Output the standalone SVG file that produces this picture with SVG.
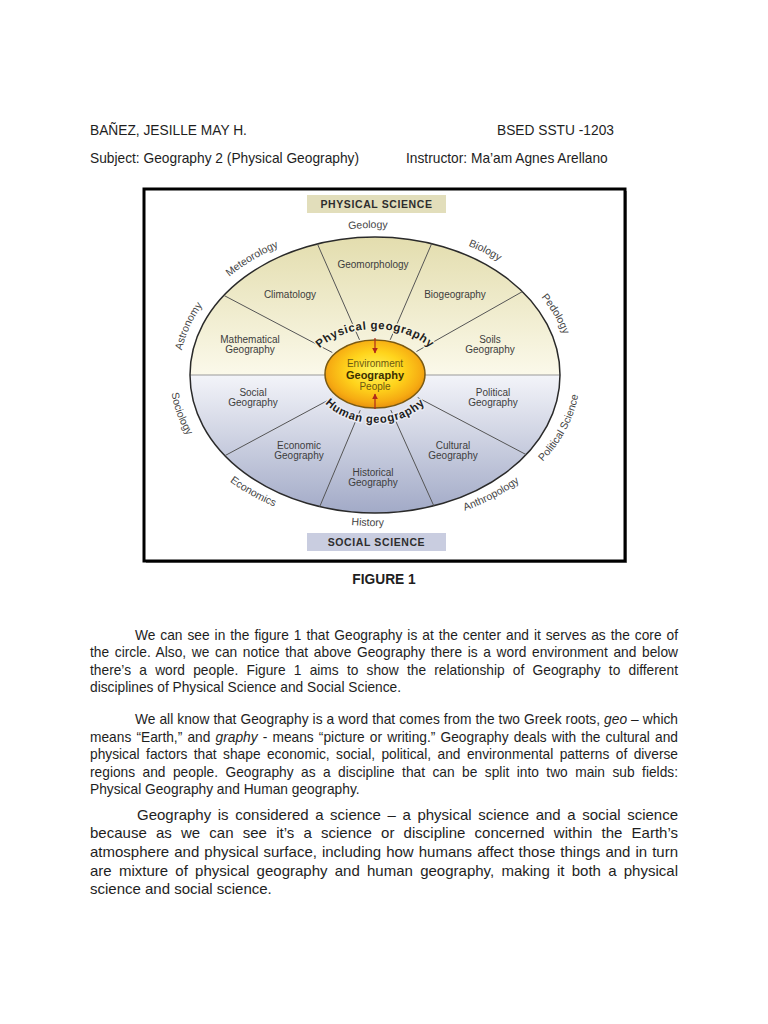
<svg xmlns="http://www.w3.org/2000/svg" width="768" height="1024" viewBox="0 0 768 1024">
<style>
text{font-family:"Liberation Sans",Arial,sans-serif}
.hdr{font-size:13.75px;fill:#1e1e1e}
.body{font-size:13.75px;fill:#1e1e1e}
.p3{font-size:15px;fill:#1e1e1e}
.lbl{font-size:10px;fill:#3d3d3d;text-anchor:middle}
.out{font-size:10.5px;fill:#444;text-anchor:middle}
.box{font-size:10.5px;font-weight:bold;fill:#2e2e2e;text-anchor:middle;letter-spacing:0.6px}
.arc{font-size:11.5px;font-weight:bold;fill:#1e1e1e;text-anchor:middle;letter-spacing:0.6px;paint-order:stroke;stroke-width:3px;stroke-linejoin:round}
.spoke{stroke:#555;stroke-width:1;fill:none}
.ctr{font-size:10px;text-anchor:middle;fill:#6b5a12}
</style>
<defs>
<linearGradient id="gUp" x1="0" y1="0" x2="0" y2="1">
<stop offset="0" stop-color="#e3ddae"/>
<stop offset="1" stop-color="#fbf9ea"/>
</linearGradient>
<linearGradient id="gDn" x1="0" y1="0" x2="0" y2="1">
<stop offset="0" stop-color="#f3f4f9"/>
<stop offset="1" stop-color="#a2aac7"/>
</linearGradient>
<radialGradient id="gCtr" cx="50%" cy="45%" r="55%">
<stop offset="0" stop-color="#fff55e"/>
<stop offset="0.5" stop-color="#ffd41c"/>
<stop offset="0.85" stop-color="#f6ab12"/>
<stop offset="1" stop-color="#e8920e"/>
</radialGradient>
<marker id="ah" viewBox="0 0 10 10" refX="9" refY="5" markerWidth="5" markerHeight="5" orient="auto">
<path d="M0,0 L10,5 L0,10 z" fill="#b02a1a"/>
</marker>
<path id="arcTop" d="M179,375 A196,147 0 0 1 571,375"/>
<path id="arcBot" d="M170,375 A205,151 0 0 0 580,375"/>
<path id="pgArc" d="M307,375 A68,46 0 0 1 443,375"/>
<path id="hgArc" d="M313,375 A62,48 0 0 0 437,375"/>
</defs>

<rect width="768" height="1024" fill="#fff"/>

<g id="header">
<text class="hdr" x="90" y="135">BAÑEZ, JESILLE MAY H.</text>
<text class="hdr" x="497" y="135">BSED SSTU -1203</text>
<text class="hdr" x="90" y="163">Subject: Geography 2 (Physical Geography)</text>
<text class="hdr" x="406" y="163">Instructor: Ma’am Agnes Arellano</text>
</g>

<g id="frame">
<rect x="146" y="191" width="481" height="372" fill="#888"/>
<rect x="144" y="189" width="481" height="372" fill="#fff" stroke="#000" stroke-width="3"/>
</g>

<g id="disc">
<path d="M190,375 A185,138 0 0 1 560,375 Z" fill="url(#gUp)"/>
<path d="M190,375 A185,138 0 0 0 560,375 Z" fill="url(#gDn)"/>
<line x1="190" y1="375" x2="560" y2="375" stroke="#9a9a9a" stroke-width="1.2"/>
<ellipse cx="375" cy="375" rx="185" ry="138" fill="none" stroke="#2a2a2a" stroke-width="1.5"/>
</g>

<g id="spokes">
<line class="spoke" x1="332.3" y1="352.5" x2="223.9" y2="295.4"/>
<line class="spoke" x1="359.5" y1="339.8" x2="317.4" y2="243.9"/>
<line class="spoke" x1="390.2" y1="339.8" x2="431.7" y2="243.6"/>
<line class="spoke" x1="416.5" y1="351.5" x2="522.4" y2="291.6"/>
<line class="spoke" x1="332.6" y1="397.8" x2="224.9" y2="455.7"/>
<line class="spoke" x1="360.2" y1="410.3" x2="319.7" y2="506.7"/>
<line class="spoke" x1="390.8" y1="410.1" x2="433.8" y2="505.8"/>
<line class="spoke" x1="417.7" y1="397.5" x2="526.1" y2="454.6"/>
</g>

<g id="physical-science">
<rect x="307" y="195" width="139" height="18" fill="#e2debb"/>
<text class="box" x="376.5" y="208">PHYSICAL SCIENCE</text>
</g>
<g id="social-science">
<rect x="307" y="533" width="139" height="18" fill="#c9cde0"/>
<text class="box" x="376.5" y="546">SOCIAL SCIENCE</text>
</g>

<g id="outer-labels">
<g id="astronomy"><text class="out"><textPath href="#arcTop" startOffset="9.2%">Astronomy</textPath></text></g>
<g id="meteorology"><text class="out"><textPath href="#arcTop" startOffset="26.4%">Meteorology</textPath></text></g>
<g id="geology"><text class="out"><textPath href="#arcTop" startOffset="48.7%">Geology</textPath></text></g>
<g id="biology"><text class="out"><textPath href="#arcTop" startOffset="70.8%">Biology</textPath></text></g>
<g id="pedology"><text class="out"><textPath href="#arcTop" startOffset="88.3%">Pedology</textPath></text></g>
<g id="sociology"><text class="out"><textPath href="#arcBot" startOffset="7.3%">Sociology</textPath></text></g>
<g id="economics"><text class="out"><textPath href="#arcBot" startOffset="27.1%">Economics</textPath></text></g>
<g id="history"><text class="out"><textPath href="#arcBot" startOffset="48.7%">History</textPath></text></g>
<g id="anthropology"><text class="out"><textPath href="#arcBot" startOffset="71.8%">Anthropology</textPath></text></g>
<g id="political-science"><text class="out"><textPath href="#arcBot" startOffset="89.6%">Political Science</textPath></text></g>
</g>

<g id="sector-labels">
<g id="geomorphology"><text class="lbl" x="373" y="268">Geomorphology</text></g>
<g id="climatology"><text class="lbl" x="290" y="298">Climatology</text></g>
<g id="biogeography"><text class="lbl" x="455" y="298">Biogeography</text></g>
<g id="mathematical-geography"><text class="lbl" x="250" y="343">Mathematical</text><text class="lbl" x="250" y="353">Geography</text></g>
<g id="soils-geography"><text class="lbl" x="490" y="343">Soils</text><text class="lbl" x="490" y="353">Geography</text></g>
<g id="social-geography"><text class="lbl" x="253" y="396">Social</text><text class="lbl" x="253" y="406">Geography</text></g>
<g id="political-geography"><text class="lbl" x="493" y="396">Political</text><text class="lbl" x="493" y="406">Geography</text></g>
<g id="economic-geography"><text class="lbl" x="299" y="449">Economic</text><text class="lbl" x="299" y="459">Geography</text></g>
<g id="cultural-geography"><text class="lbl" x="453" y="449">Cultural</text><text class="lbl" x="453" y="459">Geography</text></g>
<g id="historical-geography"><text class="lbl" x="373" y="476">Historical</text><text class="lbl" x="373" y="486">Geography</text></g>
</g>

<g id="arc-labels">
<text class="arc" stroke="#f6f3dc"><textPath href="#pgArc" startOffset="50%">Physical geography</textPath></text>
<text class="arc" stroke="#e8eaf2"><textPath href="#hgArc" startOffset="50%">Human geography</textPath></text>
</g>

<g id="center-node">
<ellipse cx="375" cy="374" rx="50" ry="34" fill="url(#gCtr)" stroke="#7a5a12" stroke-width="1.5"/>
<text class="ctr" x="375" y="367">Environment</text>
<text x="375" y="379" font-size="11" font-weight="bold" text-anchor="middle" fill="#3b3000">Geography</text>
<text class="ctr" x="375" y="390">People</text>
</g>

<g id="arrows">
<line x1="375" y1="338" x2="375" y2="353" stroke="#b02a1a" stroke-width="1.2" marker-end="url(#ah)"/>
<line x1="375" y1="409" x2="375" y2="394" stroke="#b02a1a" stroke-width="1.2" marker-end="url(#ah)"/>
</g>

<text x="384" y="584" font-size="13.75" font-weight="bold" text-anchor="middle" fill="#1e1e1e">FIGURE 1</text>

<g id="para1">
<text class="body" x="135" y="639.5" word-spacing="1.14" textLength="543" lengthAdjust="spacing">We can see in the figure 1 that Geography is at the center and it serves as the core of</text>
<text class="body" x="90" y="657.1" word-spacing="1.8" textLength="588" lengthAdjust="spacing">the circle. Also, we can notice that above Geography there is a word environment and below</text>
<text class="body" x="90" y="674.7" word-spacing="4.39" textLength="588" lengthAdjust="spacing">there’s a word people. Figure 1 aims to show the relationship of Geography to different</text>
<text class="body" x="90" y="692.3">disciplines of Physical Science and Social Science.</text>
</g>

<g id="para2">
<text class="body" x="135" y="724" word-spacing="0.25" textLength="543" lengthAdjust="spacing">We all know that Geography is a word that comes from the two Greek roots, <tspan font-style="italic">geo</tspan> – which</text>
<text class="body" x="90" y="741.6" word-spacing="1.33" textLength="588" lengthAdjust="spacing">means “Earth,” and <tspan font-style="italic">graphy</tspan> - means “picture or writing.” Geography deals with the cultural and</text>
<text class="body" x="90" y="759.2" word-spacing="2.6" textLength="588" lengthAdjust="spacing">physical factors that shape economic, social, political, and environmental patterns of diverse</text>
<text class="body" x="90" y="776.8" word-spacing="3.64" textLength="588" lengthAdjust="spacing">regions and people. Geography as a discipline that can be split into two main sub fields:</text>
<text class="body" x="90" y="794.4">Physical Geography and Human geography.</text>
</g>

<g id="para3">
<text class="p3" x="137" y="819.5" word-spacing="2.43" textLength="541" lengthAdjust="spacing">Geography is considered a science – a physical science and a social science</text>
<text class="p3" x="90" y="838.2" word-spacing="5.02" textLength="588" lengthAdjust="spacing">because as we can see it’s a science or discipline concerned within the Earth’s</text>
<text class="p3" x="90" y="856.9" word-spacing="0.85" textLength="588" lengthAdjust="spacing">atmosphere and physical surface, including how humans affect those things and in turn</text>
<text class="p3" x="90" y="875.6" word-spacing="3.01" textLength="588" lengthAdjust="spacing">are mixture of physical geography and human geography, making it both a physical</text>
<text class="p3" x="90" y="894.3">science and social science.</text>
</g>
</svg>
